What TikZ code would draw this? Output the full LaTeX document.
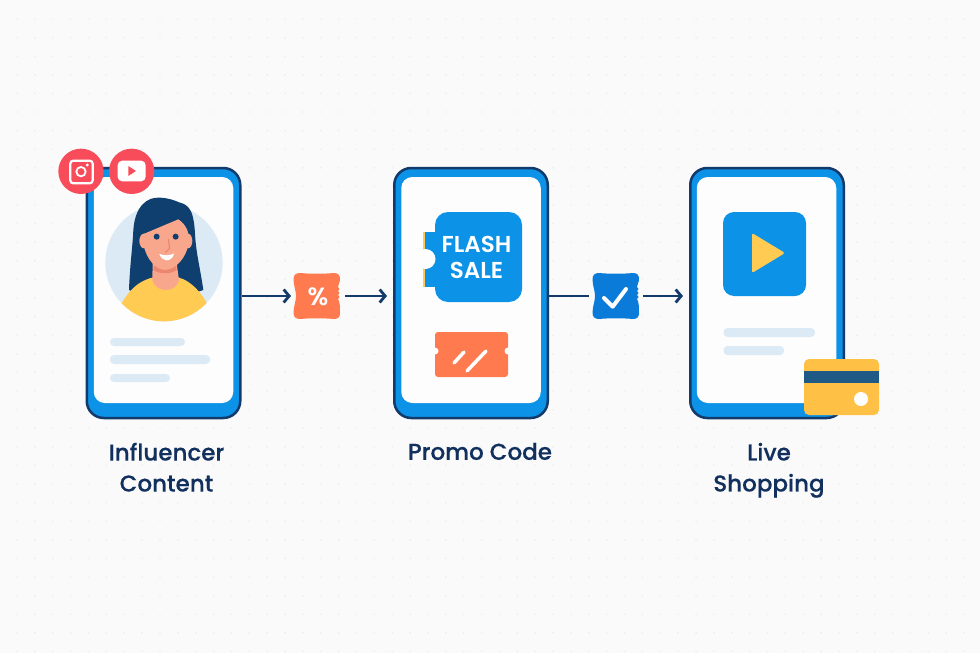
\documentclass[tikz,border=0pt]{standalone}
\usepackage{fontspec}
\setmainfont{Poppins}[BoldFont={Poppins SemiBold}]
\newfontfamily\captionfont{Poppins Medium}[FakeBold=0.35]
\usetikzlibrary{positioning,arrows.meta}
\definecolor{paper}{HTML}{FAFAFA}
\definecolor{speck}{HTML}{EEEEEE}
\definecolor{navy}{HTML}{123A6B}
\definecolor{inkblue}{HTML}{12305E}
\definecolor{appblue}{HTML}{0C92E7}
\definecolor{deepblue}{HTML}{0A7BD8}
\definecolor{paleblue}{HTML}{DCEAF6}
\definecolor{sunny}{HTML}{FFCB52}
\definecolor{cardgold}{HTML}{FFC145}
\definecolor{cardband}{HTML}{1F5A86}
\definecolor{coral}{HTML}{FF7A4F}
\definecolor{social}{HTML}{F94C5A}
\definecolor{skin}{HTML}{F9A78C}
\definecolor{skindark}{HTML}{EC8670}
\definecolor{hairblue}{HTML}{0F3F6E}
\tikzset{
	phone/.style={draw=navy, line width=2.5pt, fill=appblue, rounded corners=17pt, minimum width=153.5pt, minimum height=250pt},
	screen/.style={fill=white!60!paper, rounded corners=11pt, minimum width=139.5pt, minimum height=226pt},
	ticketnode/.style={minimum width=44pt, minimum height=44pt, inner sep=0pt, outer sep=5pt, text=white},
	flow/.style={navy, line width=2.8pt},
	barb/.style={-{Straight Barb[length=5.5pt,width=13pt,line width=2.8pt]}},
	caption/.style={text=inkblue, font=\fontsize{23}{31}\selectfont\captionfont, align=center, anchor=north},
	skeleton/.style={fill=paleblue, rounded corners=4pt},
	whitemark/.style={white, line cap=round, line join=round}
}
% wavy ticket round a centre
\newcommand{\ticketshape}[3]{
	\fill[#1] (#2-17,#3-23) .. controls (#2-6,#3-22) and (#2+6,#3-22) .. (#2+17,#3-23)
		.. controls (#2+21,#3-23) and (#2+23,#3-21) .. (#2+23,#3-17)
		.. controls (#2+23,#3-13) and (#2+21,#3-12) .. (#2+21,#3-9)
		.. controls (#2+23,#3-8) and (#2+23,#3-6) .. (#2+21,#3-5)
		.. controls (#2+23,#3-4) and (#2+23,#3-2) .. (#2+21,#3-1)
		.. controls (#2+23,#3) and (#2+23,#3+2) .. (#2+21,#3+3)
		.. controls (#2+23,#3+6) and (#2+23,#3+12) .. (#2+23,#3+17)
		.. controls (#2+23,#3+21) and (#2+21,#3+23) .. (#2+17,#3+23)
		.. controls (#2+6,#3+22) and (#2-6,#3+22) .. (#2-17,#3+23)
		.. controls (#2-21,#3+23) and (#2-23.5,#3+21) .. (#2-23.5,#3+17)
		.. controls (#2-23.5,#3+10) and (#2-21,#3+6) .. (#2-21,#3)
		.. controls (#2-21,#3-6) and (#2-23.5,#3-10) .. (#2-23.5,#3-17)
		.. controls (#2-23.5,#3-21) and (#2-21,#3-23) .. (#2-17,#3-23) -- cycle;
}
\begin{document}
\begin{tikzpicture}[x=1pt,y=-1pt]
	\useasboundingbox (0,0) rectangle (980,653);
	\fill[paper] (0,0) rectangle (980,653);
	\fill[speck] \foreach \i in {0,...,54} { \foreach \j in {0,...,34} {
		({17+17.87*\i-0.7},{19+18.6*\j-0.7}) rectangle ++(1.4,1.4) } };

	% the three phones
	\node (phoneA) [phone] at (163.5,293) {};
	\node (screenA) [screen] at (163.5,290) {};
	\node (phoneB) [phone] at (471,293) {};
	\node (screenB) [screen] at (471,290) {};
	\node (phoneC) [phone] at (767,293) {};
	\node (screenC) [screen] at (766.5,290) {};

	% avatar, in a finer grid
	\begin{scope}[shift={(50,140)},x=0.3333pt,y=-0.3333pt]
		\fill[paleblue] (342,368) circle (176pt/3);
		\fill[hairblue] (237,450) .. controls (240,370) and (248,320) .. (250,270) .. controls (255,200) and (290,170) .. (330,173)
			.. controls (360,175) and (370,180) .. (390,188) .. controls (425,195) and (432,230) .. (435,280)
			.. controls (438,340) and (450,380) .. (460,450) -- (400,470) -- (280,470) -- cycle;
		\begin{scope}
			\clip (342,368) circle (176pt/3);
			\fill[sunny] (200,520) .. controls (225,465) and (255,425) .. (310,412) -- (385,412)
				.. controls (430,425) and (465,470) .. (485,520) -- (485,560) -- (200,560) -- cycle;
		\end{scope}
		\fill[skin] (308,370) -- (380,370) -- (387,420) .. controls (380,460) and (315,460) .. (307,420) -- cycle;
		\fill[skindark] (312,378) -- (378,378) -- (380,390) .. controls (362,403) and (330,403) .. (310,390) -- cycle;
		\fill[skin] (282,303) ellipse (14pt/3 and 22pt/3);
		\fill[skin] (414,303) ellipse (13pt/3 and 22pt/3);
		\fill[skin] (276,284) -- (385,238) .. controls (410,255) and (420,280) .. (416,310) .. controls (410,350) and (380,388) .. (345,390)
			.. controls (310,388) and (280,345) .. (276,284) -- cycle;
		\fill[hairblue] (320,290) circle (9pt/3);
		\fill[hairblue] (377,290) circle (9pt/3);
		\draw[skindark, line width=1.2pt, line cap=round] (355,298) -- (359,325) -- (347,337);
		\fill[white] (328,342) .. controls (345,348) and (358,347) .. (373,340) .. controls (368,356) and (358,362) .. (348,361)
			.. controls (338,360) and (332,352) .. (328,342) -- cycle;
		% instagram and youtube badges
		\fill[social] (93,94) circle (68pt/3);
		\fill[social] (245,94) circle (68pt/3);
		\draw[white, line width=2.2pt, rounded corners=3pt] (61,62) rectangle (128,130);
		\draw[white, line width=1.8pt] (93,95) circle (14pt/3);
		\fill[white] (112,75) circle (5pt/3);
		\fill[white, rounded corners=4.5pt] (203,62) rectangle (287,124);
		\fill[social] (235,78) -- (258,93) -- (235,108) -- cycle;
	\end{scope}
	\fill[skeleton] (110,338) rectangle (185,346);
	\fill[skeleton] (110,355) rectangle (210,364);
	\fill[skeleton] (110,374) rectangle (170,382);

	% flash sale coupon
	\fill[sunny] (423,232) rectangle (436,287);
	\fill[appblue] (425,232) rectangle (440,287);
	\fill[appblue, rounded corners=13pt] (435,212) rectangle (522,302);
	\fill[white!60!paper] (425.5,259) circle (10);
	\node (flashText) [white, align=center, inner sep=0pt, font=\fontsize{23}{26}\selectfont\bfseries] at (476.5,257) {FLASH\\SALE};
	\fill[coral, rounded corners=3pt] (435,332) rectangle (508,377);
	\fill[white!60!paper] (435,351) circle (3.5);
	\fill[white!60!paper] (508,351) circle (3.5);
	\draw[whitemark, line width=3.5pt] (454,363) -- (464,352);
	\draw[whitemark, line width=3.5pt] (467,371) -- (486,351);

	% play tile
	\fill[appblue, rounded corners=11pt] (723,212) rectangle (806,296);
	\fill[sunny, rounded corners=1.5pt] (752,233) -- (785,253) -- (752,273) -- cycle;
	\fill[skeleton] (723.5,328) rectangle (815,337);
	\fill[skeleton] (723.5,346) rectangle (784,355);
	\fill[cardgold, rounded corners=5pt] (804,359) rectangle (879,415);
	\fill[cardband] (804,371) rectangle (879,383);
	\fill[white] (861,399) circle (7);

	% tickets on the flow
	\ticketshape{coral}{317}{296}
	\ticketshape{deepblue}{616}{296}
	\node (ticketA) [ticketnode, font=\fontsize{25}{25}\selectfont\bfseries] at (318,296.5) {\%};
	\node (ticketB) [ticketnode] at (616,296) {};
	\draw[whitemark, line width=4pt] (604,298) -- (612.7,306.7) -- (626,289);

	\draw [flow, barb] (phoneA.east |- ticketB.west) -- (ticketA.west |- ticketB.west);
	\draw [flow, barb, shorten >=6pt] (ticketA.east |- ticketB.east) -- (phoneB.west |- ticketB.east);
	\draw [flow] (phoneB.east |- ticketB.west) -- (ticketB.west);
	\draw [flow, barb, shorten >=6pt] (ticketB.east) -- (phoneC.west |- ticketB.east);

	% captions
	\node (captionA) [caption, below=20pt of phoneA.south, xshift=3pt] {Influencer\\Content};
	\node (captionB) [caption, below=20pt of phoneB.south, xshift=9pt] {Promo Code};
	\node (captionC) [caption, below=20pt of phoneC.south, xshift=2pt] {Live\\Shopping};
\end{tikzpicture}
\end{document}
